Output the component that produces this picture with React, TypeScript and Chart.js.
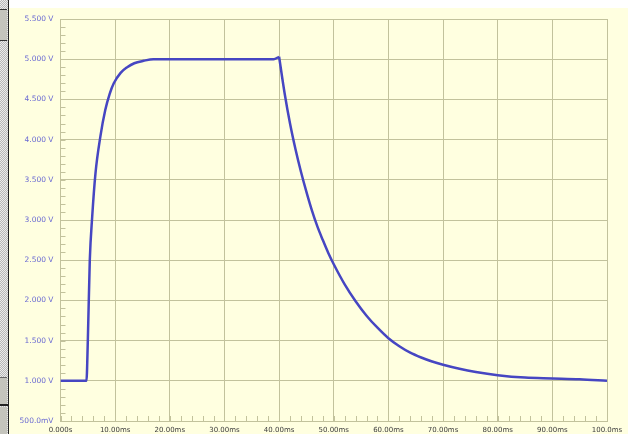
import React, { useEffect, useRef } from "react";
import { Chart, registerables } from "chart.js";

Chart.register(...registerables);

// charging phase: time in ms, voltage in V
const riseTimeMs = [0, 4.75, 5.0, 5.36, 5.8, 6.4, 7.3, 8.2, 9.0, 9.75, 11.0, 12.2, 13.5, 15.2, 17.0, 25.0, 35.0, 39.0, 40.0];
const riseVolts = [1.0, 1.0, 1.5, 2.5, 3.04, 3.58, 4.04, 4.37, 4.57, 4.7, 4.83, 4.9, 4.95, 4.98, 5.0, 5.0, 5.0, 5.0, 5.03];

// discharge phase: time in ms, voltage in V
const fallTimeMs = [40, 41, 42, 43, 44, 45, 46, 47, 48, 49, 50, 52, 54, 56, 58, 60, 62, 64, 66, 68, 70, 73, 76, 80, 85, 90, 95, 100];
const fallVolts = [
  5.03, 4.58, 4.2, 3.88, 3.6, 3.35, 3.12, 2.92, 2.75, 2.59, 2.45, 2.2, 1.99, 1.81, 1.66, 1.53, 1.43, 1.35, 1.29,
  1.24, 1.2, 1.15, 1.11, 1.07, 1.04, 1.03, 1.02, 1.0,
];

const xTickLabels = [
  "0.000s", "10.00ms", "20.00ms", "30.00ms", "40.00ms", "50.00ms",
  "60.00ms", "70.00ms", "80.00ms", "90.00ms", "100.0ms",
];
const yTickLabels = [
  "500.0mV", "1.000 V", "1.500 V", "2.000 V", "2.500 V", "3.000 V",
  "3.500 V", "4.000 V", "4.500 V", "5.000 V", "5.500 V",
];

const GRID = "#c2c29c";
const LINE = "#4646c2";

const minorTicks = {
  id: "minorTicks",
  beforeDatasetsDraw(chart: any) {
    const { ctx, chartArea, scales } = chart;
    const x = scales.x;
    const y = scales.y;
    ctx.save();
    ctx.strokeStyle = GRID;
    ctx.lineWidth = 1;
    ctx.beginPath();
    for (let i = 0; i <= 50; i++) {
      const v = 0.5 + i * 0.1;
      const py = Math.round(y.getPixelForValue(v)) + 0.5;
      ctx.moveTo(chartArea.left, py);
      ctx.lineTo(chartArea.left + 5, py);
    }
    for (let i = 0; i <= 50; i++) {
      const v = i * 2;
      const px = Math.round(x.getPixelForValue(v)) + 0.5;
      ctx.moveTo(px, chartArea.bottom);
      ctx.lineTo(px, chartArea.bottom - 5);
    }
    ctx.stroke();
    ctx.restore();
  },
};

export default function App() {
  const ref = useRef<HTMLCanvasElement | null>(null);

  useEffect(() => {
    if (!ref.current) return;
    const lineStyle = {
      borderColor: LINE,
      borderWidth: 2.5,
      pointRadius: 0,
      cubicInterpolationMode: "monotone",
      fill: false,
    };
    const chart = new Chart(ref.current, {
      type: "line",
      data: {
        datasets: [
          { ...lineStyle, data: riseTimeMs.map((t, i) => ({ x: t, y: riseVolts[i] })) },
          { ...lineStyle, data: fallTimeMs.map((t, i) => ({ x: t, y: fallVolts[i] })) },
        ],
      },
      options: {
        animation: false,
        responsive: false,
        devicePixelRatio: 1,
        layout: { padding: { left: 0, right: 33, top: 19, bottom: 0 } },
        plugins: { legend: { display: false }, tooltip: { enabled: false } },
        scales: {
          x: {
            type: "linear",
            min: 0,
            max: 100,
            afterFit: (s: any) => {
              s.height = 13;
            },
            grid: { color: GRID, drawTicks: false, lineWidth: 1 },
            border: { display: true, color: GRID },
            ticks: {
              stepSize: 10,
              autoSkip: false,
              maxRotation: 0,
              padding: 5,
              color: "#3c3c3c",
              font: { family: "DejaVu Sans", size: 7 },
              callback: (v: any) => xTickLabels[Math.round(Number(v) / 10)],
            },
          },
          y: {
            type: "linear",
            min: 0.5,
            max: 5.5,
            afterFit: (s: any) => {
              s.width = 60.5;
            },
            grid: { color: GRID, drawTicks: false, lineWidth: 1 },
            border: { display: true, color: GRID },
            ticks: {
              stepSize: 0.5,
              padding: 7,
              color: "#6a6ad2",
              font: { family: "DejaVu Sans", size: 7.5 },
              callback: (v: any) => yTickLabels[Math.round((Number(v) - 0.5) / 0.5)],
            },
          },
        },
      },
      plugins: [minorTicks],
    } as any);
    return () => chart.destroy();
  }, []);

  return (
    <div style={{ position: "fixed", left: 0, top: 0, width: 640, height: 434, background: "#ffffff", overflow: "hidden" }}>
      <div style={{ position: "absolute", left: 9, top: 8, width: 619, height: 426, background: "#ffffe0" }} />
      <div
        style={{
          position: "absolute",
          left: 0,
          top: 0,
          width: 8,
          height: 434,
          background: "repeating-conic-gradient(#b8b8b8 0% 25%, #ececec 0% 50%) 0 0 / 2px 2px",
        }}
      />
      <div style={{ position: "absolute", left: 0, top: 9, width: 7, height: 30, background: "#c4c4bc", borderTop: "1px solid #333", borderBottom: "1px solid #333" }} />
      <div style={{ position: "absolute", left: 0, top: 377, width: 7, height: 27, background: "#c4c4bc", borderTop: "1px solid #666" }} />
      <div style={{ position: "absolute", left: 0, top: 404, width: 8, height: 2, background: "#222" }} />
      <div style={{ position: "absolute", left: 0, top: 407, width: 7, height: 27, background: "#c4c4bc" }} />
      <div style={{ position: "absolute", left: 8, top: 0, width: 1, height: 434, background: "#222" }} />
      <canvas ref={ref} width={640} height={434} style={{ position: "absolute", left: 0, top: 0, width: 640, height: 434 }} />
    </div>
  );
}
